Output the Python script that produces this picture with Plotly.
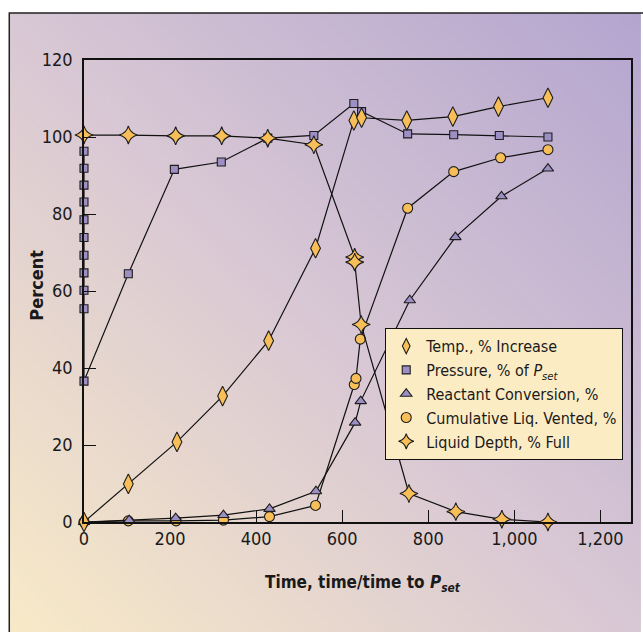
import base64
import plotly.graph_objects as go

# ---------------- data ----------------
t_temp = [0, 103, 216, 322, 429, 538, 627, 645, 750, 857, 963, 1078]
temp = [0, 9.9, 20.8, 32.7, 47.1, 71.1, 104.3, 105.0, 104.3, 105.3, 107.9, 110.2]

t_pres = [0, 0, 0, 0, 0, 0, 0, 0, 0, 0, 0, 103, 210, 319, 427, 534, 627, 645, 752, 859, 965, 1078]
pres = [96.3, 91.9, 87.5, 83.1, 78.5, 73.9, 69.3, 64.7, 60.2, 55.4, 36.6,
        64.5, 91.6, 93.5, 99.7, 100.4, 108.7, 106.6, 100.8, 100.6, 100.4, 100.0]

t_reac = [0, 105, 213, 324, 431, 539, 630, 643, 757, 863, 970, 1078]
reac = [0, 0.5, 1.0, 1.8, 3.4, 8.0, 25.8, 31.4, 57.6, 74.0, 84.6, 91.8]

t_vent = [0, 103, 214, 324, 431, 538, 628, 632, 642, 752, 859, 968, 1078]
vent = [0, 0.3, 0.3, 0.5, 1.4, 4.3, 35.7, 37.3, 47.5, 81.5, 91.0, 94.6, 96.7]

t_depth = [0, 103, 213, 320, 427, 534, 629, 629, 644, 755, 864, 971, 1078]
depth = [100.5, 100.5, 100.3, 100.3, 99.7, 98.0, 68.8, 67.5, 51.3, 7.4, 2.7, 0.7, 0]

legend_names = ["Temp., % Increase",
                "Pressure, % of <i>P</i><sub><i>set</i></sub>",
                "Reactant Conversion, %",
                "Cumulative Liq. Vented, %",
                "Liquid Depth, % Full"]

x_title = "<b>Time, time/time to <i>P</i><sub><i>set</i></sub></b>"
y_title = "<b>Percent</b>"

x_ticks = [0, 200, 400, 600, 800, 1000, 1200]
x_ticktext = ["0", "200", "400", "600", "800", "1,000", "1,200"]
y_ticks = [0, 20, 40, 60, 80, 100, 120]

# ---------------- styles ----------------
ORANGE = "#f8bf58"
PURPLE = "#9d8ec4"
EDGE = "#1e1e1e"
FONT = "Liberation Sans Narrow, DejaVu Sans Condensed, Roboto Condensed, Roboto, sans-serif"

styles = {
    "temp": dict(symbol="diamond-tall", size=14, color=ORANGE),
    "pres": dict(symbol="square", size=8, color=PURPLE),
    "reac": dict(symbol="triangle-up", size=10, color=PURPLE),
    "vent": dict(symbol="circle", size=10, color=ORANGE),
    "depth": dict(symbol="star-diamond", size=13, color=ORANGE),
}

fig = go.Figure()


def add_series(x, y, key):
    s = styles[key]
    fig.add_trace(go.Scatter(
        x=x, y=y, mode="lines+markers", showlegend=False, cliponaxis=False,
        line=dict(color="#111111", width=1.2),
        marker=dict(symbol=s["symbol"], size=s["size"], color=s["color"],
                    line=dict(color=EDGE, width=1.1)),
        hoverinfo="x+y"))


add_series(t_pres, pres, "pres")
add_series(t_vent, vent, "vent")
add_series(t_reac, reac, "reac")
add_series(t_temp, temp, "temp")
add_series(t_depth, depth, "depth")

# legend entries (marker only)
for name, key in zip(legend_names, ["temp", "pres", "reac", "vent", "depth"]):
    s = styles[key]
    fig.add_trace(go.Scatter(
        x=[None], y=[None], mode="markers", name=name,
        marker=dict(symbol=s["symbol"], size=min(s["size"], 11), color=s["color"],
                    line=dict(color=EDGE, width=1.1))))

# ---------------- background gradient ----------------
svg = ('<svg xmlns="http://www.w3.org/2000/svg" width="100" height="100" '
       'viewBox="0 0 100 100" preserveAspectRatio="none"><defs>'
       '<linearGradient id="g" x1="0" y1="1" x2="1" y2="0">'
       '<stop offset="0" stop-color="#f8eac7"/>'
       '<stop offset="0.5" stop-color="#d8c7d4"/>'
       '<stop offset="1" stop-color="#b3a5cf"/>'
       '</linearGradient></defs><rect width="100" height="100" fill="url(#g)"/></svg>')
src = "data:image/svg+xml;base64," + base64.b64encode(svg.encode()).decode()

W, H = 643, 632
L, R, T, B = 84, 10, 60, 110
pw, ph = W - L - R, H - T - B


def px(xp):
    return (xp - L) / pw


def py(yp):
    return (H - B - yp) / ph


fig.add_layout_image(dict(
    source=src, xref="paper", yref="paper",
    x=px(9), y=py(13), sizex=(W - 9) / pw, sizey=(H - 13) / ph,
    xanchor="left", yanchor="top", sizing="stretch", layer="below"))

fig.add_shape(type="path", xref="paper", yref="paper",
              path=f"M {px(9)},{py(H + 5)} L {px(9)},{py(13)} L {px(W + 5)},{py(13)}",
              line=dict(color="#222222", width=1.5))

# axis titles placed as annotations
fig.add_annotation(text=x_title, xref="paper", yref="paper", x=px(364), y=py(583),
                   xanchor="center", yanchor="middle", showarrow=False,
                   font=dict(family=FONT, size=17, color="#1a1a1a"))
fig.add_annotation(text=y_title, xref="paper", yref="paper", x=px(35.5), y=py(285),
                   xanchor="center", yanchor="middle", showarrow=False, textangle=-90,
                   font=dict(family=FONT, size=18, color="#1a1a1a"))

axis_common = dict(showline=True, linecolor="#111111", linewidth=1.5, mirror=True,
                   ticks="inside", tickcolor="#111111", tickwidth=1.3, ticklen=12,
                   showgrid=False, zeroline=False,
                   tickfont=dict(family=FONT, size=18, color="#1a1a1a"))

fig.update_layout(
    width=W, height=H,
    margin=dict(l=L, r=R, t=T, b=B),
    paper_bgcolor="white", plot_bgcolor="white",
    font=dict(family=FONT, color="#1a1a1a"),
    xaxis=dict(range=[0, 1271], tickvals=x_ticks, ticktext=x_ticktext, **axis_common),
    yaxis=dict(range=[0, 120], tickvals=y_ticks, ticklabelstandoff=6, **axis_common),
    legend=dict(x=px(625), y=py(328), xanchor="right", yanchor="top",
                bgcolor="#fcecc4", bordercolor="#111111", borderwidth=1.2,
                font=dict(family=FONT, size=16, color="#1a1a1a"),
                itemwidth=30, tracegroupgap=0),
    showlegend=True,
)

fig.write_html("out.html")
